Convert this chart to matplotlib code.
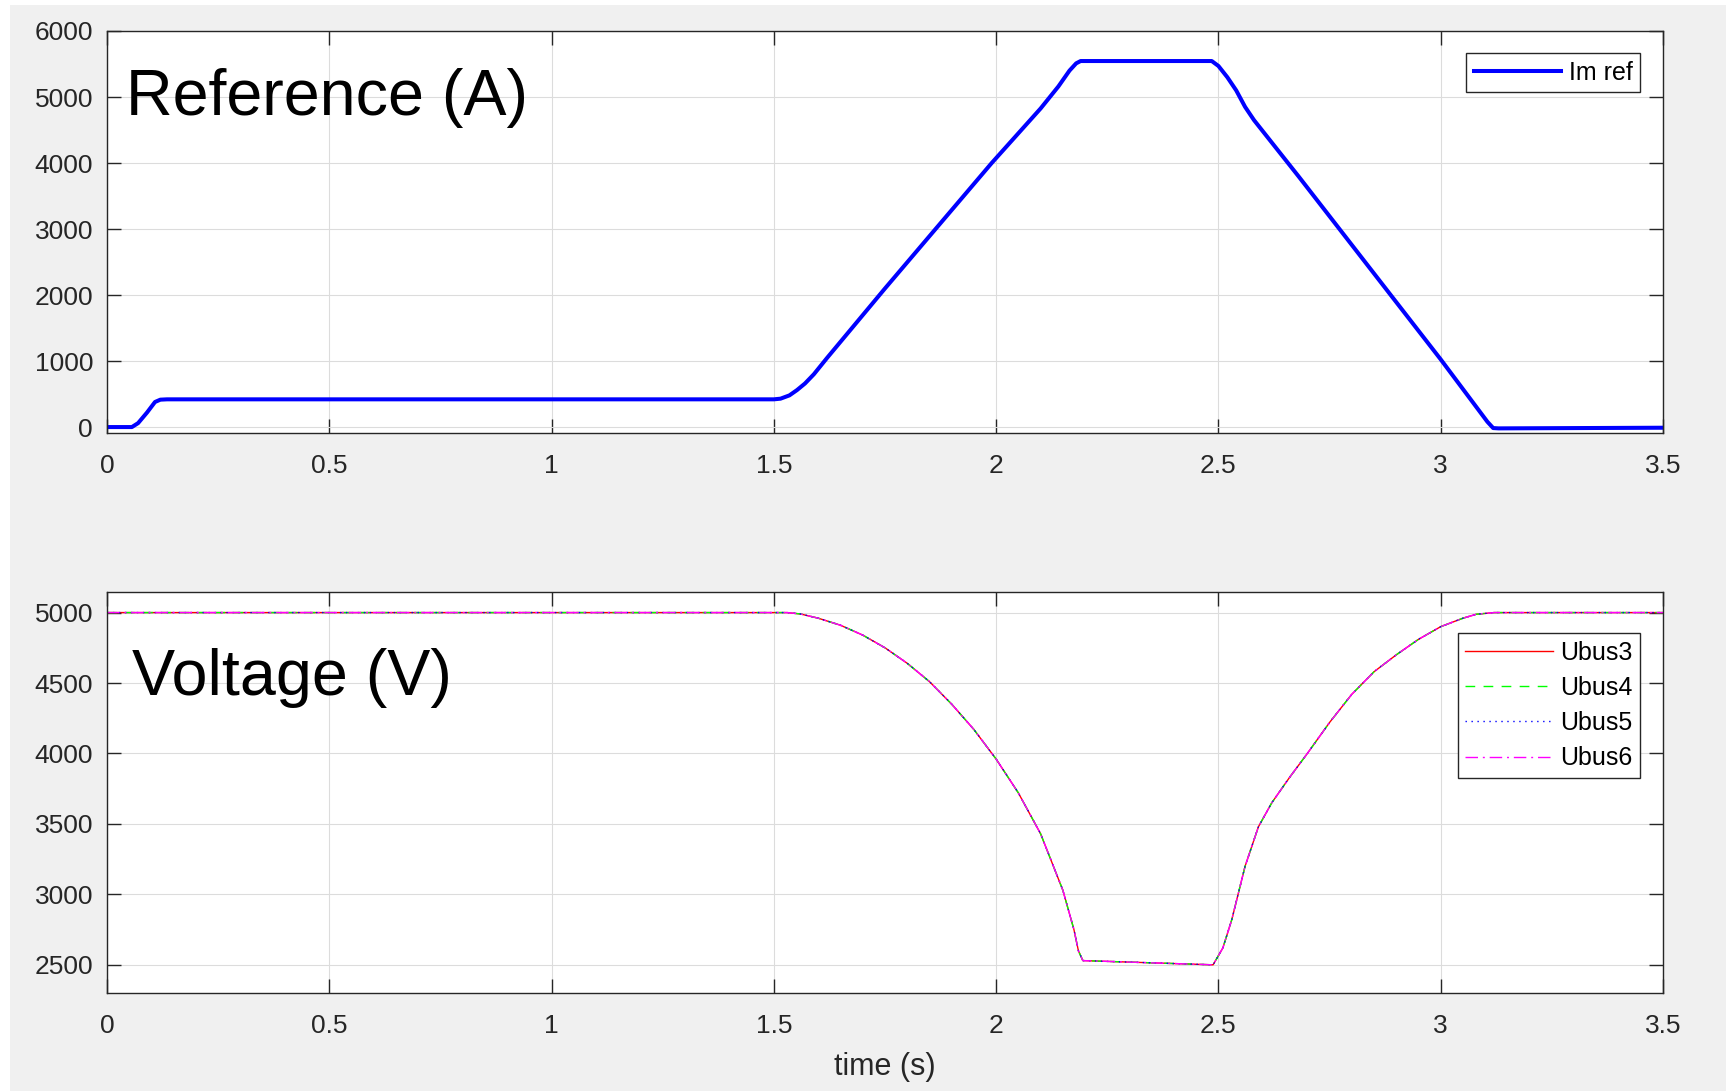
import matplotlib
matplotlib.use("Agg")
import matplotlib.pyplot as plt
from matplotlib.patches import Rectangle

plt.rcParams['font.family'] = ['Liberation Sans', 'DejaVu Sans']

# current reference (Im ref)
t_ref = [0, 0.056, 0.07, 0.09, 0.108, 0.12, 0.135, 1.50, 1.515, 1.535, 1.552, 1.57,
         1.59, 1.62, 1.75, 1.99, 2.10, 2.14, 2.165, 2.18, 2.19, 2.485, 2.50, 2.52,
         2.54, 2.56, 2.58, 2.68, 3.00, 3.105, 3.118, 3.13, 3.5]
im_ref = [0, 0, 60, 220, 380, 415, 420, 420, 430, 480, 560, 660,
          800, 1050, 2100, 4000, 4826, 5160, 5400, 5510, 5545, 5545, 5470, 5300,
          5100, 4850, 4650, 3800, 1025, 80, -15, -20, -10]

# bus voltages (all four buses sit on top of each other)
t_bus = [0, 1.53, 1.56, 1.6, 1.65, 1.7, 1.75, 1.8, 1.85, 1.9, 1.95, 2.0, 2.05, 2.1,
         2.15, 2.175, 2.185, 2.195, 2.488, 2.51, 2.53, 2.56, 2.59, 2.62, 2.66, 2.7,
         2.75, 2.8, 2.85, 2.9, 2.95, 3.0, 3.05, 3.08, 3.12, 3.5]
ubus = [5000, 5000, 4990, 4960, 4910, 4840, 4750, 4640, 4510, 4350, 4170, 3960,
        3720, 3430, 3030, 2750, 2600, 2530, 2500, 2620, 2820, 3200, 3480, 3650,
        3830, 4000, 4220, 4420, 4580, 4700, 4810, 4900, 4960, 4988, 5000, 5000]
ubus3 = ubus
ubus4 = ubus
ubus5 = ubus
ubus6 = ubus

xticks = [0, 0.5, 1, 1.5, 2, 2.5, 3, 3.5]
xticklabels = ['0', '0.5', '1', '1.5', '2', '2.5', '3', '3.5']

W, H = 1726, 1091
fig = plt.figure(figsize=(W / 100, H / 100), dpi=100, facecolor='white')
fig.patches.append(Rectangle((10 / W, 0), 1, 1 - 5 / H, transform=fig.transFigure,
                             facecolor='#f0f0f0', edgecolor='none', zorder=-10))

dark = '#262626'


def style(ax):
    ax.set_facecolor('white')
    ax.set_xlim(0, 3.5)
    ax.set_xticks(xticks)
    ax.set_xticklabels(xticklabels)
    ax.grid(True, color='#dcdcdc', linewidth=0.8)
    ax.set_axisbelow(True)
    for s in ax.spines.values():
        s.set_color(dark)
        s.set_linewidth(1.0)
    ax.tick_params(direction='in', length=10, width=1.0, color=dark, labelcolor=dark,
                   labelsize=19, top=True, right=True)
    ax.tick_params(axis='x', pad=15)
    ax.tick_params(axis='y', pad=10)


ax1 = fig.add_axes([107 / W, 1 - 433 / H, 1556 / W, 402 / H])
ax1.plot(t_ref, im_ref, color='#0000ff', linewidth=2.9, label='Im ref')
ax1.set_ylim(-90, 6000)
ax1.set_yticks([0, 1000, 2000, 3000, 4000, 5000, 6000])
style(ax1)
ax1.legend(loc='upper right', bbox_to_anchor=(1640 / W, 1 - 53 / H),
           bbox_transform=fig.transFigure, borderaxespad=0, fontsize=18,
           fancybox=False, edgecolor=dark, framealpha=1, handlelength=3.5,
           handletextpad=0.3, borderpad=0.3).get_frame().set_linewidth(1.0)

ax2 = fig.add_axes([107 / W, 1 - 993 / H, 1556 / W, 401 / H])
ax2.plot(t_bus, ubus3, color='#ff0000', linewidth=1.0, linestyle='-', label='Ubus3')
ax2.plot(t_bus, ubus4, color='#00ff00', linewidth=1.0, dashes=(7, 6), label='Ubus4')
ax2.plot(t_bus, ubus5, color='#0000ff', linewidth=1.0, dashes=(1, 3.3), label='Ubus5')
ax2.plot(t_bus, ubus6, color='#ff00ff', linewidth=1.0, dashes=(9, 3.5, 1.4, 3.5), label='Ubus6')
ax2.set_ylim(2300, 5146)
ax2.set_yticks([2500, 3000, 3500, 4000, 4500, 5000])
style(ax2)
ax2.set_xlabel('time (s)', fontsize=22, color=dark, labelpad=10)
ax2.legend(loc='upper right', bbox_to_anchor=(1640 / W, 1 - 633 / H),
           bbox_transform=fig.transFigure, borderaxespad=0, fontsize=18,
           fancybox=False, edgecolor=dark, framealpha=1, handlelength=3.5,
           handletextpad=0.3, borderpad=0.3, labelspacing=0.45).get_frame().set_linewidth(1.0)

fig.text(126 / W, 1 - 115 / H, 'Reference (A)', fontsize=46.5, color='black', va='baseline')
fig.text(132 / W, 1 - 695 / H, 'Voltage (V)', fontsize=46.5, color='black', va='baseline')

fig.savefig('out.png', dpi=100, facecolor=fig.get_facecolor())
